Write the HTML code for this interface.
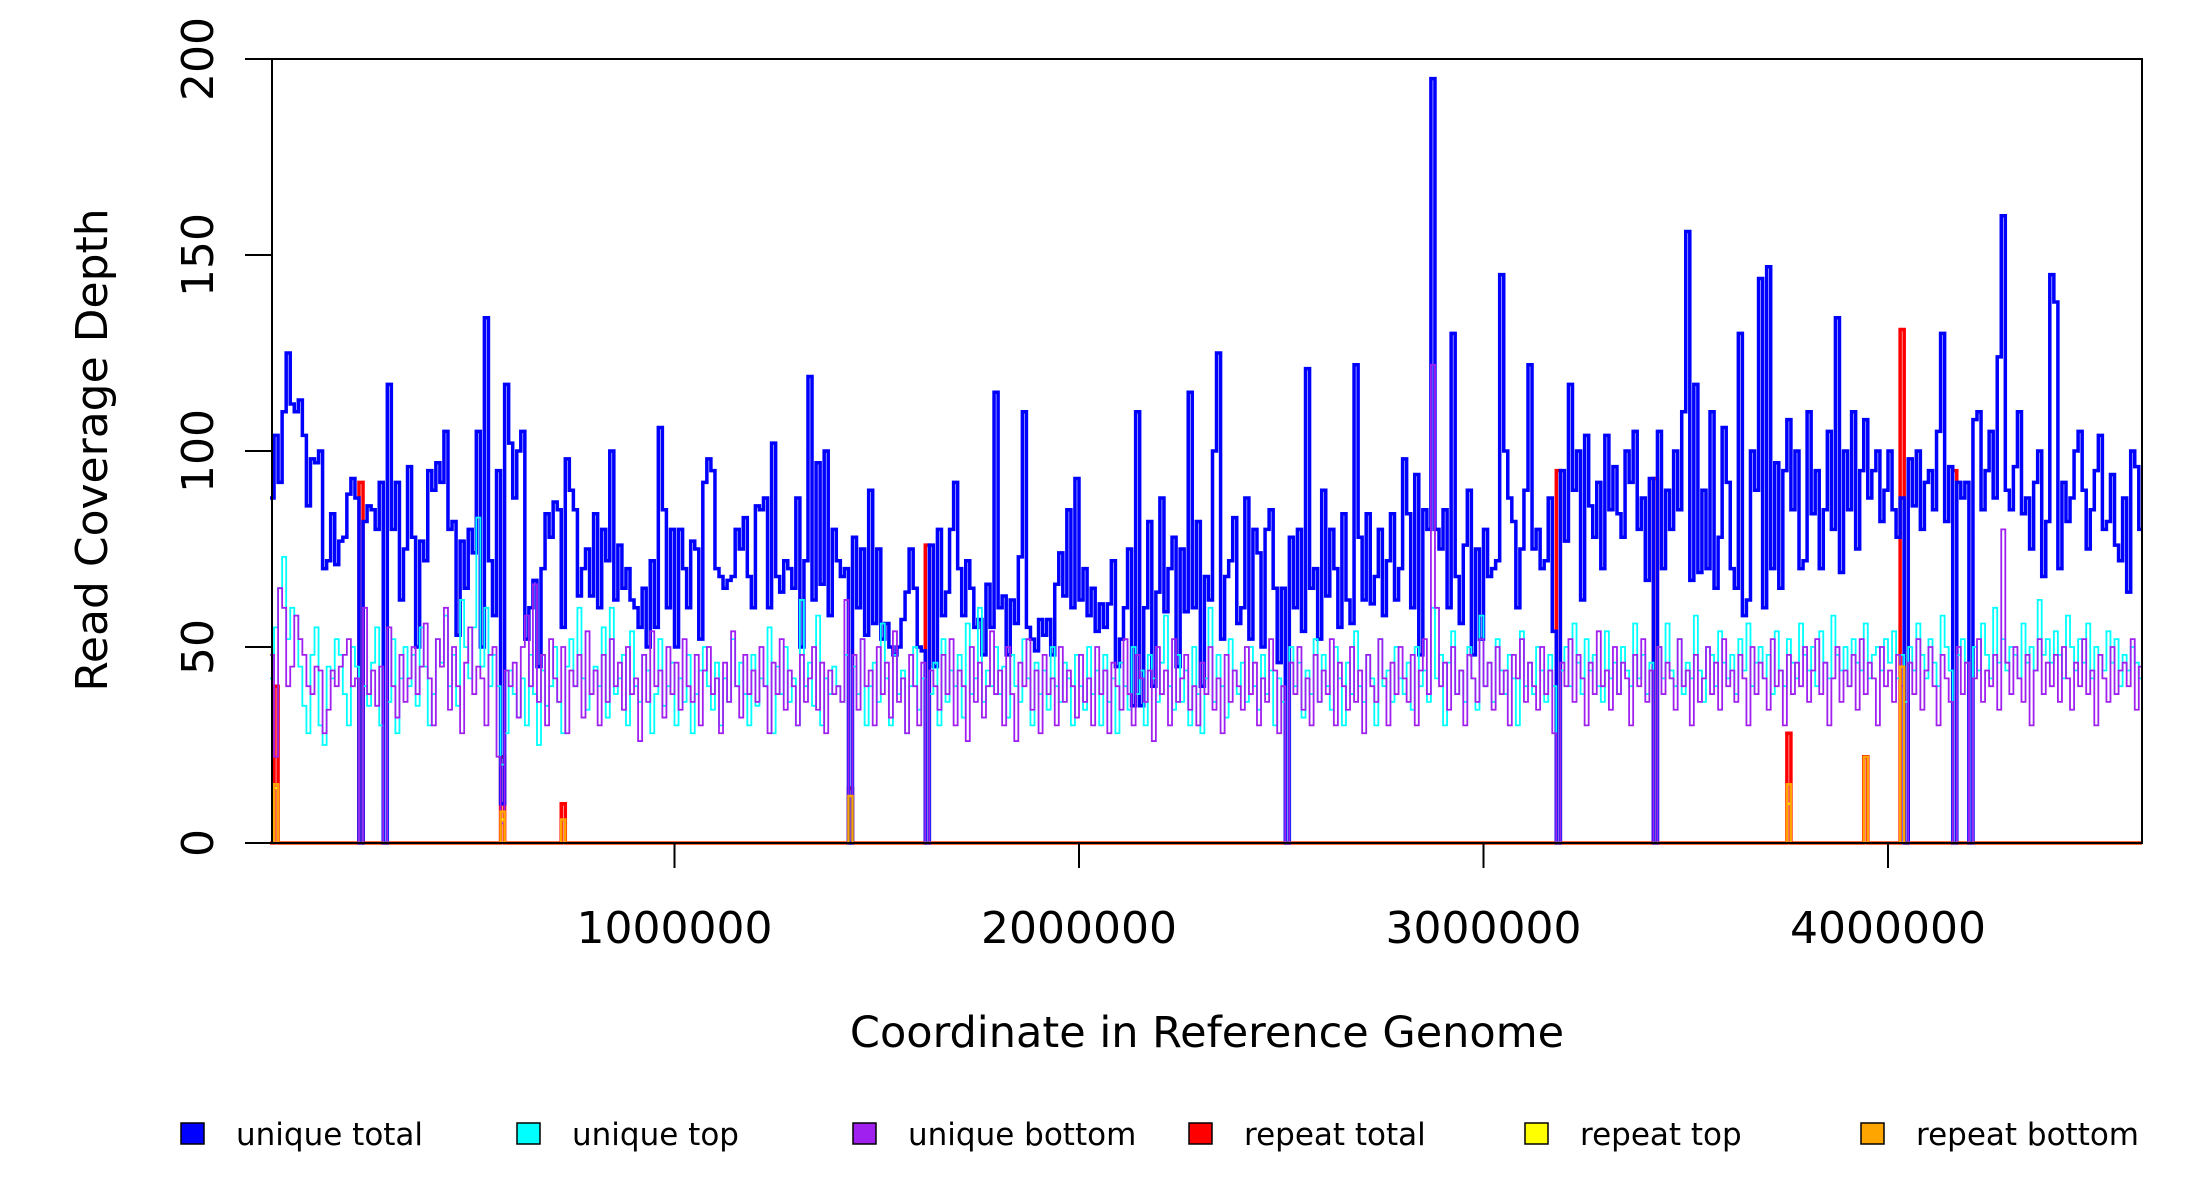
<!DOCTYPE html>
<html><head><meta charset="utf-8"><style>
html,body{margin:0;padding:0;background:#fff;}
svg{display:block;font-family:"DejaVu Sans","Liberation Sans",sans-serif;}
</style></head><body>
<svg id="chart" width="2200" height="1200" viewBox="0 0 2200 1200" xmlns="http://www.w3.org/2000/svg">
<rect width="2200" height="1200" fill="#fff"/>
<g id="series"></g>
<rect x="272" y="59" width="1870" height="784" fill="none" stroke="#000" stroke-width="2"/>
<g id="axes"></g>
<text transform="translate(107,450) rotate(-90)" text-anchor="middle" font-size="44">Read Coverage Depth</text>
<text x="1207" y="1047" text-anchor="middle" font-size="43">Coordinate in Reference Genome</text>
<g id="legend"></g>
</svg>
<script>
const binSize = 10000;
const uniqueTotal = [88,104,92,110,125,112,110,113,104,86,98,97,100,70,72,84,71,77,78,89,
93,88,0,82,86,85,80,92,0,117,80,92,62,75,96,78,50,77,72,95,
90,97,92,105,80,82,53,77,65,80,74,105,50,134,72,58,95,10,117,102,
88,100,105,52,60,67,45,70,84,78,87,85,55,98,90,85,63,70,75,63,
84,60,80,72,100,62,76,65,70,62,60,55,65,50,72,55,106,85,60,80,
50,80,70,60,77,75,52,92,98,95,70,68,65,67,68,80,75,83,68,60,
86,85,88,60,102,68,64,72,70,65,88,50,72,119,62,97,66,100,58,80,
72,68,70,0,78,60,75,53,90,56,75,52,56,50,48,50,57,64,75,65,
50,49,0,76,45,80,58,64,80,92,70,58,72,65,55,57,48,66,55,115,
60,63,48,62,56,73,110,55,52,49,
57,53,57,48,66,74,63,85,60,93,62,70,58,65,54,61,55,61,72,45,
52,60,75,35,110,35,60,82,40,64,88,59,70,78,45,75,59,115,60,82,
40,68,62,100,125,52,68,72,83,56,
60,88,52,80,74,50,80,85,65,46,65,0,78,60,80,54,121,65,70,52,
90,63,80,70,55,84,62,56,122,78,62,84,61,68,80,58,72,84,62,70,
98,84,60,94,48,85,80,195,80,75,85,60,130,68,56,76,90,48,75,52,
80,68,70,72,145,100,88,82,60,75,90,122,75,80,70,72,88,54,0,95,
77,117,90,100,62,104,86,78,92,70,104,85,96,84,78,100,92,105,80,88,
67,93,0,105,70,90,80,100,85,110,156,67,117,69,90,70,110,65,78,106,
92,70,65,130,58,62,100,90,144,60,147,70,97,65,95,108,85,100,70,72,
110,84,95,70,85,105,80,134,69,100,85,110,75,95,108,88,95,100,82,90,
100,85,78,88,0,98,86,100,80,92,95,85,105,130,82,96,0,92,88,92,
0,108,110,85,95,105,88,124,160,90,85,96,110,84,88,75,92,100,68,82,
145,138,70,92,82,88,100,105,90,75,85,95,104,80,82,94,76,72,88,64,
100,96,80];
const uniqueTop = [42,55,65,73,52,60,58,45,35,28,48,55,30,25,45,42,52,48,38,30,
50,45,0,40,35,46,55,30,0,36,52,28,42,50,40,48,35,55,45,30,
38,52,46,58,40,48,35,62,50,42,55,83,45,60,40,48,40,20,28,44,
38,32,42,30,48,38,25,44,35,40,50,36,28,45,52,40,60,42,34,38,
45,40,55,32,60,38,42,48,30,54,40,36,48,44,28,38,52,35,40,46,
30,42,36,48,28,38,44,50,40,34,46,30,42,36,52,40,46,38,30,48,
35,42,40,55,28,45,38,50,36,42,30,62,40,46,35,58,30,42,38,45,
40,36,48,0,45,38,52,30,40,46,36,56,42,30,48,38,44,28,40,50,
34,42,0,38,46,30,52,36,44,40,48,32,56,38,42,60,36,44,40,50,
38,45,32,48,40,36,52,42,30,46,38,44,34,50,40,36,46,42,30,48,
40,34,50,38,44,30,48,36,42,28,46,40,34,50,38,44,30,48,42,36,
46,58,40,34,48,36,44,30,50,38,28,42,60,36,48,40,32,52,44,38,
46,36,50,40,34,48,38,44,30,42,36,0,50,40,46,32,44,38,52,36,
48,40,34,50,42,30,46,38,54,40,36,48,42,30,52,40,44,36,50,42,
38,46,34,50,40,44,36,60,42,48,30,46,54,38,44,36,50,42,34,58,
40,46,36,52,44,38,48,42,30,54,40,46,38,50,44,36,48,40,0,44,
50,40,56,46,38,52,44,48,40,36,54,42,46,38,50,44,40,56,42,48,
38,46,0,50,42,56,44,40,52,38,46,42,58,44,36,50,48,40,54,46,
42,48,38,52,44,56,40,46,50,42,48,38,54,44,40,52,46,42,56,48,
44,50,40,54,46,42,58,48,44,50,40,52,46,44,56,42,48,50,44,52,
46,54,42,48,36,50,44,56,48,42,52,46,40,58,50,44,0,48,52,46,
0,50,44,56,48,42,60,46,52,44,50,48,42,56,46,50,44,62,48,52,
46,54,48,42,58,50,44,52,46,56,42,50,48,44,54,46,52,40,48,44,
50,46,42];
const uniqueBottom = [48,22,65,60,40,45,58,52,48,40,38,45,44,28,34,44,40,45,48,52,
40,42,0,60,38,44,35,45,0,55,40,32,48,36,42,50,38,45,56,42,
30,52,45,60,34,50,40,28,46,55,38,45,42,30,48,50,22,5,44,40,
46,32,50,58,40,66,36,48,30,52,42,36,50,28,44,40,48,32,54,38,
44,30,48,36,52,40,46,34,50,38,42,26,48,36,54,40,44,32,50,38,
46,34,52,40,36,48,30,44,50,38,42,28,46,36,54,40,32,48,38,44,
36,50,40,28,46,38,52,34,44,40,30,48,36,42,50,34,46,28,44,38,
40,36,62,0,48,34,52,40,44,30,50,38,46,32,54,36,42,28,48,40,
30,46,0,44,40,34,48,38,52,30,44,40,26,50,36,46,32,40,54,38,
44,30,50,38,26,46,40,52,34,44,28,48,38,42,30,50,36,44,40,32,
48,36,42,30,50,38,44,28,46,40,34,52,38,30,48,42,36,44,26,50,
38,44,30,52,36,42,48,34,40,30,46,38,50,34,42,28,48,36,44,40,
34,50,38,46,30,42,36,52,44,28,40,0,46,38,50,34,42,30,48,36,
44,38,52,30,46,40,34,50,36,44,28,48,40,36,52,42,30,46,38,50,
42,36,48,30,44,52,38,122,60,40,46,34,50,38,44,30,48,42,36,52,
40,46,34,50,38,44,30,48,42,52,36,46,40,34,50,38,44,28,0,46,
40,52,36,48,42,30,46,38,54,40,44,34,50,38,46,42,30,48,40,52,
36,44,0,50,38,46,42,34,52,40,44,30,48,36,42,50,38,46,34,52,
40,44,36,48,42,30,50,38,46,42,34,52,40,44,30,48,38,46,40,50,
36,44,52,38,46,30,42,50,36,44,40,48,34,52,38,46,42,30,50,40,
44,36,48,40,0,46,38,52,34,44,50,40,30,48,42,36,0,50,38,46,
0,42,52,36,44,40,48,34,80,46,38,50,42,36,48,30,44,52,38,46,
40,48,36,50,42,34,46,40,52,38,44,30,48,42,36,50,38,44,46,40,
52,34,45];
const repeatTotalBins = [1,22,57,72,143,162,318,342,375,394,403,416];
const repeatTotalVals = [40,92,22,10,14,76,95,93,28,22,131,95];
const repeatTopBins = [1,57,143,375];
const repeatTopVals = [14,6,12,10];
const repeatBottomBins = [1,57,72,143,375,394,403];
const repeatBottomVals = [15,8,6,12,15,22,45];
const yTicks = [0,50,100,150,200];
const xTicks = [1000000,2000000,3000000,4000000];
const legendLabels = ["unique total","unique top","unique bottom","repeat total","repeat top","repeat bottom"];
const legendColors = ["#0000ff","#00ffff","#a020f0","#ff0000","#ffff00","#ffa500"];

const NS = "http://www.w3.org/2000/svg";
const X0 = 270, PXPERBP = 404.5e-6, XMAX = 2142;
const Y0 = 843, PXPERUNIT = 784/200;
function xs(g){ return Math.min(XMAX, X0 + g*PXPERBP); }
function ys(v){ return Y0 - v*PXPERUNIT; }
function expand(bins, vals, n){ const a = new Array(n).fill(0); bins.forEach((b,i)=>{ a[b]=vals[i]; }); return a; }
function stepPath(vals){
  let d = "M" + xs(0).toFixed(2) + "," + ys(vals[0]).toFixed(2);
  for(let i=0;i<vals.length;i++){
    d += "H" + xs((i+1)*binSize).toFixed(2);
    if(i+1<vals.length) d += "V" + ys(vals[i+1]).toFixed(2);
  }
  return d;
}
const N = uniqueTotal.length;
const seriesG = document.getElementById('series');
const series = [
  ["repeat-total-line", expand(repeatTotalBins, repeatTotalVals, N), legendColors[3], 3.5],
  ["repeat-top-line", expand(repeatTopBins, repeatTopVals, N), legendColors[4], 2],
  ["unique-total-line", uniqueTotal, legendColors[0], 3.5],
  ["unique-top-line", uniqueTop, legendColors[1], 1.8],
  ["unique-bottom-line", uniqueBottom, legendColors[2], 1.8],
  ["repeat-bottom-line", expand(repeatBottomBins, repeatBottomVals, N), legendColors[5], 2.5]
];
series.forEach(s=>{
  const p = document.createElementNS(NS,'path');
  
  
  p.setAttribute('d', stepPath(s[1]));
  p.setAttribute('fill','none');
  p.setAttribute('stroke', s[2]);
  p.setAttribute('stroke-width', s[3]);
  p.setAttribute('stroke-linejoin','miter');
  seriesG.appendChild(p);
});
const axesG = document.getElementById('axes');
yTicks.forEach(t=>{
  const l = document.createElementNS(NS,'line');
  
  
  l.setAttribute('x1',245); l.setAttribute('x2',272);
  l.setAttribute('y1',ys(t)); l.setAttribute('y2',ys(t));
  l.setAttribute('stroke','#000'); l.setAttribute('stroke-width',2);
  axesG.appendChild(l);
  const tx = document.createElementNS(NS,'text');
  
  
  tx.setAttribute('transform','translate(213,'+ys(t)+') rotate(-90)');
  tx.setAttribute('text-anchor','middle');
  tx.setAttribute('font-size','44');
  tx.textContent = t;
  axesG.appendChild(tx);
});
xTicks.forEach(t=>{
  const l = document.createElementNS(NS,'line');
  
  
  l.setAttribute('x1',xs(t)); l.setAttribute('x2',xs(t));
  l.setAttribute('y1',843); l.setAttribute('y2',868);
  l.setAttribute('stroke','#000'); l.setAttribute('stroke-width',2);
  axesG.appendChild(l);
  const tx = document.createElementNS(NS,'text');
  
  
  tx.setAttribute('x',xs(t)); tx.setAttribute('y',943);
  tx.setAttribute('text-anchor','middle');
  tx.setAttribute('font-size','44');
  tx.textContent = t;
  axesG.appendChild(tx);
});
const legG = document.getElementById('legend');
legendLabels.forEach((lab,i)=>{
  const bx = 181 + i*336;
  const r = document.createElementNS(NS,'rect');
  
  
  r.setAttribute('x',bx); r.setAttribute('y',1123);
  r.setAttribute('width',23); r.setAttribute('height',21);
  r.setAttribute('fill',legendColors[i]); r.setAttribute('stroke','#000'); r.setAttribute('stroke-width',1.5);
  legG.appendChild(r);
  const tx = document.createElementNS(NS,'text');
  
  
  tx.setAttribute('x',bx+55); tx.setAttribute('y',1145);
  tx.setAttribute('font-size','31');
  tx.textContent = lab;
  legG.appendChild(tx);
});
</script>
</body></html>
